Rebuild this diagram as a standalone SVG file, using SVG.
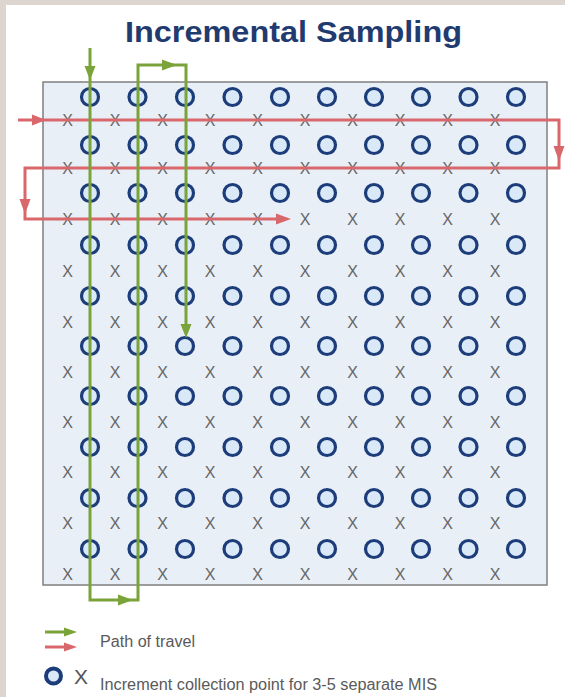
<svg xmlns="http://www.w3.org/2000/svg" width="565" height="697" viewBox="0 0 565 697">
<defs>
<style>
.title{font-family:"Liberation Sans",Arial,sans-serif;font-weight:bold;font-size:30px;fill:#1f3b6f}
.lbl{font-family:"Liberation Sans",Arial,sans-serif;font-size:16px;fill:#5a5a5a}
.c{fill:#d9e9f8;stroke:#1d3d7a;stroke-width:3.2}
.x{font-family:"Liberation Sans",Arial,sans-serif;font-size:16px;fill:#666;text-anchor:middle}
.g{fill:none;stroke:#7aa33a;stroke-width:3;stroke-linejoin:miter}
.r{fill:none;stroke:#d9686c;stroke-width:3;stroke-linejoin:miter}
.gh{fill:#7aa33a}
.rh{fill:#d9686c}
</style>
<circle id="o" class="c" r="8.5"/>
</defs>
<rect width="565" height="697" fill="#ddd6d0"/>
<rect x="6" y="5" width="559" height="692" fill="#ffffff"/>
<text class="title" x="125" y="42" textLength="337" lengthAdjust="spacingAndGlyphs">Incremental Sampling</text>
<g id="field">
<rect x="43" y="82" width="504" height="503" fill="#e9eff6" stroke="#7f7f7f" stroke-width="1.5"/>
</g>
<g id="points-o">
<g transform="translate(0,97)"><use href="#o" x="90"/><use href="#o" x="137.5"/><use href="#o" x="185"/><use href="#o" x="232.5"/><use href="#o" x="280"/><use href="#o" x="327"/><use href="#o" x="374"/><use href="#o" x="421"/><use href="#o" x="468.5"/><use href="#o" x="516"/></g>
<g transform="translate(0,145)"><use href="#o" x="90"/><use href="#o" x="137.5"/><use href="#o" x="185"/><use href="#o" x="232.5"/><use href="#o" x="280"/><use href="#o" x="327"/><use href="#o" x="374"/><use href="#o" x="421"/><use href="#o" x="468.5"/><use href="#o" x="516"/></g>
<g transform="translate(0,193)"><use href="#o" x="90"/><use href="#o" x="137.5"/><use href="#o" x="185"/><use href="#o" x="232.5"/><use href="#o" x="280"/><use href="#o" x="327"/><use href="#o" x="374"/><use href="#o" x="421"/><use href="#o" x="468.5"/><use href="#o" x="516"/></g>
<g transform="translate(0,245)"><use href="#o" x="90"/><use href="#o" x="137.5"/><use href="#o" x="185"/><use href="#o" x="232.5"/><use href="#o" x="280"/><use href="#o" x="327"/><use href="#o" x="374"/><use href="#o" x="421"/><use href="#o" x="468.5"/><use href="#o" x="516"/></g>
<g transform="translate(0,296)"><use href="#o" x="90"/><use href="#o" x="137.5"/><use href="#o" x="185"/><use href="#o" x="232.5"/><use href="#o" x="280"/><use href="#o" x="327"/><use href="#o" x="374"/><use href="#o" x="421"/><use href="#o" x="468.5"/><use href="#o" x="516"/></g>
<g transform="translate(0,346)"><use href="#o" x="90"/><use href="#o" x="137.5"/><use href="#o" x="185"/><use href="#o" x="232.5"/><use href="#o" x="280"/><use href="#o" x="327"/><use href="#o" x="374"/><use href="#o" x="421"/><use href="#o" x="468.5"/><use href="#o" x="516"/></g>
<g transform="translate(0,396)"><use href="#o" x="90"/><use href="#o" x="137.5"/><use href="#o" x="185"/><use href="#o" x="232.5"/><use href="#o" x="280"/><use href="#o" x="327"/><use href="#o" x="374"/><use href="#o" x="421"/><use href="#o" x="468.5"/><use href="#o" x="516"/></g>
<g transform="translate(0,447)"><use href="#o" x="90"/><use href="#o" x="137.5"/><use href="#o" x="185"/><use href="#o" x="232.5"/><use href="#o" x="280"/><use href="#o" x="327"/><use href="#o" x="374"/><use href="#o" x="421"/><use href="#o" x="468.5"/><use href="#o" x="516"/></g>
<g transform="translate(0,498)"><use href="#o" x="90"/><use href="#o" x="137.5"/><use href="#o" x="185"/><use href="#o" x="232.5"/><use href="#o" x="280"/><use href="#o" x="327"/><use href="#o" x="374"/><use href="#o" x="421"/><use href="#o" x="468.5"/><use href="#o" x="516"/></g>
<g transform="translate(0,549)"><use href="#o" x="90"/><use href="#o" x="137.5"/><use href="#o" x="185"/><use href="#o" x="232.5"/><use href="#o" x="280"/><use href="#o" x="327"/><use href="#o" x="374"/><use href="#o" x="421"/><use href="#o" x="468.5"/><use href="#o" x="516"/></g>
</g>
<g id="points-x">
<text class="x" x="67.5 115 162.5 210 257.5 305 352.5 400 447.5 495" y="125.7">XXXXXXXXXX</text>
<text class="x" x="67.5 115 162.5 210 257.5 305 352.5 400 447.5 495" y="173.7">XXXXXXXXXX</text>
<text class="x" x="67.5 115 162.5 210 257.5 305 352.5 400 447.5 495" y="225.2">XXXXXXXXXX</text>
<text class="x" x="67.5 115 162.5 210 257.5 305 352.5 400 447.5 495" y="276.7">XXXXXXXXXX</text>
<text class="x" x="67.5 115 162.5 210 257.5 305 352.5 400 447.5 495" y="327.7">XXXXXXXXXX</text>
<text class="x" x="67.5 115 162.5 210 257.5 305 352.5 400 447.5 495" y="377.7">XXXXXXXXXX</text>
<text class="x" x="67.5 115 162.5 210 257.5 305 352.5 400 447.5 495" y="427.7">XXXXXXXXXX</text>
<text class="x" x="67.5 115 162.5 210 257.5 305 352.5 400 447.5 495" y="477.7">XXXXXXXXXX</text>
<text class="x" x="67.5 115 162.5 210 257.5 305 352.5 400 447.5 495" y="528.7">XXXXXXXXXX</text>
<text class="x" x="67.5 115 162.5 210 257.5 305 352.5 400 447.5 495" y="579.7">XXXXXXXXXX</text>
</g>
<g id="connectors">
<g id="red-path">
<path class="r" d="M18,120 H559 V168 H25 V219 H278"/>
<polygon class="rh" points="32,114.5 46,120 32,125.5"/>
<polygon class="rh" points="553.5,146 559,161 564.5,146"/>
<polygon class="rh" points="19.5,199 25,214 30.5,199"/>
<polygon class="rh" points="276,213.5 291,219 276,224.5"/>
</g>
<g id="green-path">
<path class="g" d="M90,48 V600 H138 V65 H186 V328"/>
<polygon class="gh" points="84.5,66 90,80 95.5,66"/>
<polygon class="gh" points="118,594.5 133,600 118,605.5"/>
<polygon class="gh" points="162,59.5 177,65 162,70.5"/>
<polygon class="gh" points="180.5,324 186,338 191.5,324"/>
</g>
</g>
<g id="legend">
<g id="legend-path">
<line x1="45" y1="632" x2="66" y2="632" class="g" stroke-width="2.5"/>
<polygon class="gh" points="64,627.5 77,632 64,636.5"/>
<line x1="45" y1="647" x2="66" y2="647" class="r" stroke-width="2.5"/>
<polygon class="rh" points="64,642.5 77,647 64,651.5"/>
<text class="lbl" x="100" y="647" textLength="95" lengthAdjust="spacingAndGlyphs">Path of travel</text>
</g>
<g id="legend-points">
<circle cx="53.5" cy="676" r="7.5" fill="#d9e9f8" stroke="#1d3d7a" stroke-width="4"/>
<text x="81" y="683.5" font-family="Liberation Sans, Arial, sans-serif" font-size="21" fill="#555" text-anchor="middle">X</text>
<text class="lbl" x="100" y="690" textLength="337" lengthAdjust="spacingAndGlyphs">Increment collection point for 3-5 separate MIS</text>
</g>
</g>
</svg>
